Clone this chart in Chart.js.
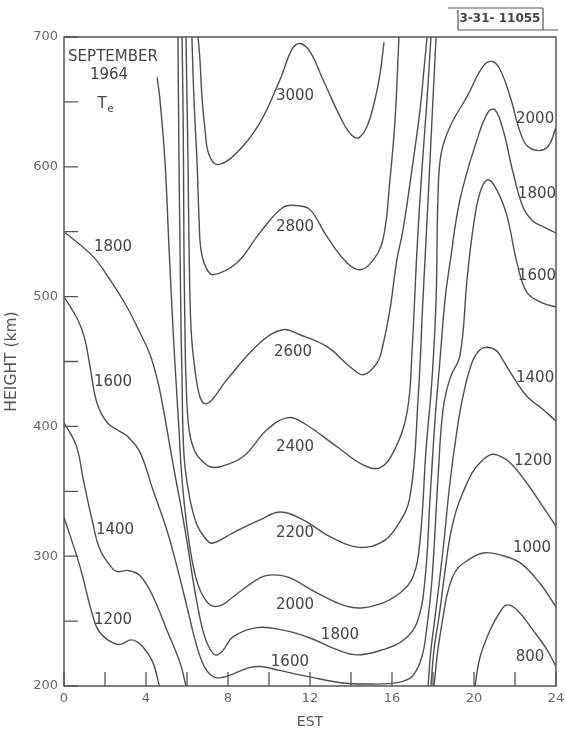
<!DOCTYPE html>
<html><head><meta charset="utf-8">
<script src="https://cdn.jsdelivr.net/npm/chart.js@4.4.1/dist/chart.umd.min.js"></script>
<style>html,body{margin:0;padding:0;background:#fff;}#wrap{width:565px;height:731px;}</style>
</head><body><div id="wrap"><canvas id="c" width="565" height="731"></canvas></div>
<script>
// Axis ticks
const hourTicks = [0,2,4,6,8,10,12,14,16,18,20,22,24];
const heightTicks = [200,250,300,350,400,450,500,550,600,650,700];

// Contours: [hour EST, height km]
const c800 = [[20.05,200],[20.29,222],[20.78,243],[21.27,257],[21.61,262.5],[22.10,258.6],[22.88,243],[23.56,228],[24,215]];
const c1000 = [[18.05,200],[18.24,228],[18.49,253],[18.68,270],[18.93,283],[19.22,291],[19.66,296.5],[20.44,302.5],[21.27,301],[22.24,295],[23.22,279],[24,261]];
const c1200L = [[0,330],[0.78,292],[1.37,256],[1.76,241],[2.63,232],[3.32,235.5],[3.85,230],[4.34,218],[4.65,200]];
const c1200R = [[17.90,200],[18.05,228],[18.29,253],[18.59,289],[18.83,315],[19.12,334.5],[19.46,349],[19.90,364],[20.29,372],[20.78,378],[21.12,378],[21.76,372],[22.59,356],[23.37,338],[24,323]];
const c1400L = [[0,403],[0.6,385],[0.93,360],[1.37,328],[1.76,305],[2.39,290],[2.63,288],[3.12,289],[3.71,285],[4.34,269],[5.02,243],[5.66,218],[5.95,200]];
const c1400R = [[17.76,200],[17.9,228],[18.1,253],[18.49,305],[18.83,357],[19.17,397],[19.46,423],[19.90,449],[20.29,459],[20.68,461],[21.12,458],[21.41,451],[22.0,436],[22.59,423],[23.37,413],[24,404]];
const c1600 = [[0,500],[0.68,482],[1.02,467],[1.27,446],[1.61,418],[2.10,403],[2.63,397],[3.12,392],[3.71,380],[4.34,351],[5.02,320],[5.51,292],[6.0,261],[6.49,230],[6.88,214],[7.3,207],[7.7,206.5],[8.2,209],[9.0,214],[9.6,215],[10.5,212],[12.0,207],[13.5,202.5],[15.0,201.5],[16.0,202],[16.6,204],[17.02,208],[17.45,222],[17.7,245],[17.95,282],[18.24,359],[18.49,413],[18.83,437],[19.32,455],[19.66,513],[19.95,552],[20.29,580],[20.68,590],[21.12,582],[21.61,562],[22.10,526],[22.59,503],[23.37,495],[24,492]];
const c1800 = [[0,550],[1.41,531],[2.24,513],[3.07,492],[3.71,472],[4.20,455.2],[4.59,433.6],[4.88,410.5],[5.17,384.3],[5.46,358.8],[5.76,333.4],[6.05,306.4],[6.29,281.7],[6.49,264],[6.73,245.5],[7.02,231.6],[7.37,224],[7.71,226.5],[8.24,237.8],[9.41,245],[10.68,243],[12.0,237],[13.32,228],[14.29,224],[15.56,228],[16.54,235],[17.22,249],[17.61,282],[17.85,343],[18.10,405],[18.34,451],[18.59,498],[18.83,526],[19.32,575],[20.15,621],[20.68,642],[21.02,644],[21.41,629],[21.90,596],[22.39,569],[22.88,558],[23.37,554],[24,549]];
const c2000 = [[4.54,668.8],[4.68,651.8],[4.93,603.2],[5.12,538.5],[5.32,474.5],[5.46,436],[5.61,397.4],[5.71,368.9],[5.85,343.4],[6.05,316.4],[6.29,293.3],[6.54,277.9],[6.83,267.9],[7.22,261.7],[7.71,262.5],[8.24,268.6],[9.56,283.3],[10.20,285.6],[11.02,283.3],[12.34,271.7],[13.95,260.9],[15.27,262.5],[16.39,271.7],[17.02,284],[17.37,312.6],[17.66,382],[17.95,436],[18.15,497.6],[18.24,574.7],[18.39,609.4],[18.83,631],[19.66,654.1],[20.44,677.3],[20.88,681.1],[21.27,675],[21.76,654.1],[22.39,621],[22.88,613.3],[23.56,614.8],[24,630]];
const c2200 = [[5.56,700],[5.61,603],[5.66,538.5],[5.71,474.5],[5.76,436],[5.80,397.4],[5.90,369],[6.15,343.4],[6.49,324],[6.88,314],[7.22,310],[8.24,318],[9.56,328],[10.54,334],[11.66,328],[12.98,315],[14.29,307],[15.41,310],[16.24,323],[16.88,346],[17.27,420.5],[17.51,497.6],[17.76,574.7],[17.95,636.4],[18.15,700]];
const c2400 = [[5.76,700],[5.80,651.8],[5.83,603.2],[5.85,538.5],[5.90,474.5],[5.95,436],[6.10,397.4],[6.39,380.4],[6.78,372.7],[7.12,368.9],[7.61,368.9],[8.73,376.6],[9.90,397.4],[10.88,406.6],[11.66,402.8],[13.32,384.3],[14.59,370.4],[15.41,368.1],[16.05,379.6],[16.73,410.5],[16.98,459.1],[17.22,536.2],[17.46,597.8],[17.71,651.8],[17.90,700]];
const c2600 = [[5.95,700],[6.0,651.8],[6.05,603.2],[6.10,538.5],[6.20,474.5],[6.39,443.6],[6.63,422.8],[6.88,417.4],[7.22,420.5],[7.95,436],[9.56,464.5],[10.68,474.5],[11.51,470.6],[12.83,461.4],[13.95,446],[14.59,439.8],[15.27,449],[15.56,462.9],[15.90,489.9],[16.24,528.5],[16.54,551.6],[17.02,603.2],[17.37,644.1],[17.56,675],[17.71,700]];
const c2800 = [[6.24,700],[6.34,651.8],[6.49,603.2],[6.59,559.3],[6.68,536.2],[6.93,522.3],[7.27,516.9],[8.44,526.1],[9.56,549.3],[10.68,568.6],[11.37,570.1],[12.0,567],[12.83,546.2],[13.80,526.1],[14.44,520.7],[15.02,527],[15.56,544],[15.90,590],[16.15,636.4],[16.34,700]];
const c3000 = [[6.54,700],[6.63,682.7],[6.73,654.1],[6.88,628.7],[7.07,609.4],[7.51,601.7],[8.44,611],[9.56,634.1],[10.54,667.2],[11.12,690.4],[11.51,695],[12.0,688.8],[12.63,667.2],[13.61,634.1],[14.05,624.1],[14.39,622.5],[14.78,631],[15.17,651.8],[15.41,671],[15.61,695.8]];

// Contour labels
const labelTexts   = ['3000','2800','2600','2400','2200','2000','1800','1600','1800','1600','1400','1200','2000','1800','1600','1400','1200','1000','800'];
const labelHours   = [11.27,11.27,11.17,11.27,11.27,11.27,13.46,11.02,2.39,2.39,2.49,2.39,22.98,23.07,23.07,22.98,22.88,22.83,22.73];
const labelHeights = [654.1,553.9,457.5,384.3,318,262.5,239.3,218.5,538.5,434.4,320.3,250.9,636.4,578.6,516.1,437.5,373.5,306.4,222.4];

const lineColor = '#4f4f4f';
const contours = [c800,c1000,c1200L,c1200R,c1400L,c1400R,c1600,c1800,c2000,c2200,c2400,c2600,c2800,c3000];

Chart.defaults.font.family = "'DejaVu Sans', sans-serif";

const decor = {
  id: 'decor',
  afterDatasetsDraw(chart) {
    const ctx = chart.ctx, a = chart.chartArea;
    const xs = chart.scales.x, ys = chart.scales.y;
    ctx.save();
    ctx.strokeStyle = '#555';
    ctx.lineWidth = 1.5;
    ctx.strokeRect(a.left, a.top, a.right - a.left, a.bottom - a.top);
    ctx.lineWidth = 1.3;
    ctx.beginPath();
    hourTicks.forEach(v => { const px = xs.getPixelForValue(v); ctx.moveTo(px, a.bottom); ctx.lineTo(px, a.bottom - 14); });
    heightTicks.forEach(v => { const py = ys.getPixelForValue(v); ctx.moveTo(a.left, py); ctx.lineTo(a.left + 14, py); });
    ctx.stroke();
    // contour labels
    ctx.fillStyle = '#444';
    ctx.font = "15px 'DejaVu Sans'";
    ctx.textAlign = 'center';
    ctx.textBaseline = 'middle';
    labelTexts.forEach((t, i) => {
      ctx.fillText(t, xs.getPixelForValue(labelHours[i]), ys.getPixelForValue(labelHeights[i]));
    });
    // panel annotations
    ctx.fillStyle = '#444';
    ctx.font = "15px 'DejaVu Sans'";
    ctx.fillText('SEPTEMBER', 113, 57);
    ctx.fillText('1964', 109, 75);
    ctx.fillText('T', 102, 104);
    ctx.font = "10px 'DejaVu Sans'";
    ctx.fillText('e', 110.5, 109);
    // figure id box
    ctx.font = "bold 12px 'DejaVu Sans'";
    ctx.fillText('3-31- 11055', 500, 19);
    ctx.lineWidth = 1.2;
    ctx.beginPath();
    ctx.moveTo(448, 8); ctx.lineTo(543, 8);
    ctx.moveTo(458, 10); ctx.lineTo(458, 30);
    ctx.moveTo(543, 8); ctx.lineTo(543, 30);
    ctx.moveTo(458, 30); ctx.lineTo(558, 30);
    ctx.stroke();
    ctx.restore();
  }
};

new Chart(document.getElementById('c'), {
  type: 'scatter',
  data: {
    datasets: contours.map(c => ({
      data: c.map(p => ({x: p[0], y: p[1]})),
      showLine: true,
      borderColor: lineColor,
      borderWidth: 1.4,
      pointRadius: 0,
      tension: 0.4,
      fill: false
    }))
  },
  options: {
    responsive: false,
    animation: false,
    devicePixelRatio: 1,
    layout: {padding: {top: 37, right: 9, bottom: 0, left: 0}},
    plugins: {legend: {display: false}, tooltip: {enabled: false}},
    scales: {
      x: {
        type: 'linear', min: 0, max: 24,
        grid: {display: false, drawTicks: false},
        border: {display: false},
        ticks: {stepSize: 2, autoSkip: false, maxRotation: 0, padding: 5, color: '#666',
          font: {size: 13}, callback: v => (v % 4 === 0 ? String(v) : '')},
        title: {display: true, text: 'EST', color: '#555', font: {size: 14}, padding: {top: 3, bottom: 0}},
        afterFit: s => { s.height = 45; s.paddingRight = 0; s.paddingLeft = 0; }
      },
      y: {
        type: 'linear', min: 200, max: 700,
        grid: {display: false, drawTicks: false},
        border: {display: false},
        ticks: {stepSize: 50, autoSkip: false, padding: 6, color: '#666',
          font: {size: 13}, callback: v => (v % 100 === 0 ? String(v) : '')},
        title: {display: true, text: 'HEIGHT (km)', color: '#555', font: {size: 15.5}, padding: {top: 3, bottom: 0}},
        afterFit: s => { s.width = 64; s.paddingTop = 0; s.paddingBottom = 0; }
      }
    }
  },
  plugins: [decor]
});
</script>
</body></html>
